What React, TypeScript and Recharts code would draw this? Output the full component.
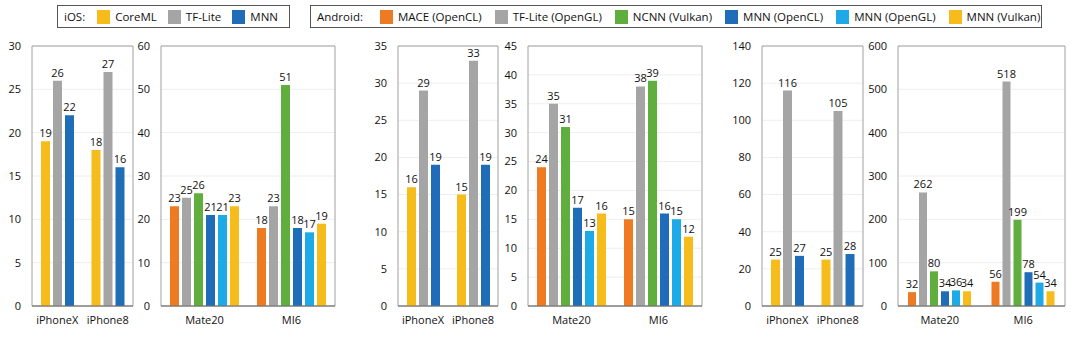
import React from "react";
import { BarChart, Bar, XAxis, YAxis, CartesianGrid, ReferenceArea, LabelList } from "recharts";

// categories
const iosDevices = ["iPhoneX", "iPhone8"];
const androidDevices = ["Mate20", "MI6"];

// series
const iosSeries = ["CoreML", "TF-Lite", "MNN"];
const iosColors = ["#F5BC1C", "#A5A5A5", "#1F6DB8"];
const androidSeries = ["MACE (OpenCL)", "TF-Lite (OpenGL)", "NCNN (Vulkan)", "MNN (OpenCL)", "MNN (OpenGL)", "MNN (Vulkan)"];
const androidColors = ["#EE7B22", "#A5A5A5", "#5FAE3E", "#1F6DB8", "#1DAAE6", "#F5BC1C"];

// values: one row per device, one column per series
const iosA = [[19, 26, 22], [18, 27, 16]];
const androidA = [[23, 25, 26, 21, 21, 23], [18, 23, 51, 18, 17, 19]];
const iosB = [[16, 29, 19], [15, 33, 19]];
const androidB = [[24, 35, 31, 17, 13, 16], [15, 38, 39, 16, 15, 12]];
const iosC = [[25, 116, 27], [25, 105, 28]];
const androidC = [[32, 262, 80, 34, 36, 34], [56, 518, 199, 78, 54, 34]];

// y ticks
const ticksIosA = [0, 5, 10, 15, 20, 25, 30];
const ticksAndroidA = [0, 10, 20, 30, 40, 50, 60];
const ticksIosB = [0, 5, 10, 15, 20, 25, 30, 35];
const ticksAndroidB = [0, 5, 10, 15, 20, 25, 30, 35, 40, 45];
const ticksIosC = [0, 20, 40, 60, 80, 100, 120, 140];
const ticksAndroidC = [0, 100, 200, 300, 400, 500, 600];

const FONT = "'Open Sans', sans-serif";
const AXIS_W = 30;

type PanelProps = {
  left: number;
  right: number;
  cats: string[];
  values: number[][];
  colors: string[];
  ticks: number[];
  barSize: number;
};

function Panel({ left, right, cats, values, colors, ticks, barSize }: PanelProps) {
  const data = cats.map((c, i) => {
    const row: Record<string, any> = { name: c };
    values[i].forEach((v, j) => (row["s" + j] = v));
    return row;
  });
  const max = ticks[ticks.length - 1];
  const w = right - left + AXIS_W + 1;
  return (
    <div style={{ position: "absolute", left: left - AXIS_W, top: 0 }}>
      <BarChart width={w} height={348} data={data} margin={{ top: 46, right: 1, left: 0, bottom: 12 }} barGap={3}>
        <CartesianGrid vertical={false} stroke="#eeeeee" />
        <ReferenceArea y1={0} y2={max} fill="none" stroke="#a0a0a0" strokeWidth={1} />
        <XAxis
          dataKey="name"
          height={30}
          axisLine={{ stroke: "#6f6f6f" }}
          tickLine={false}
          tickSize={0}
          tickMargin={10}
          tick={{ fill: "#111", fontSize: 11, fontFamily: FONT }}
        />
        <YAxis
          width={AXIS_W}
          domain={[0, max]}
          ticks={ticks}
          axisLine={false}
          tickLine={false}
          tickSize={0}
          tickMargin={11}
          tick={{ fill: "#111", fontSize: 11, fontFamily: FONT }}
        />
        {colors.map((col, j) => (
          <Bar key={j} dataKey={"s" + j} fill={col} barSize={barSize} isAnimationActive={false}>
            <LabelList dataKey={"s" + j} position="top" offset={4} fill="#111" fontSize={11} fontFamily={FONT} />
          </Bar>
        ))}
      </BarChart>
    </div>
  );
}

type LegendProps = { left: number; width: number; title: string; titleGap: number; itemGap: number; names: string[]; colors: string[] };

function LegendBox({ left, width, title, titleGap, itemGap, names, colors }: LegendProps) {
  return (
    <div
      style={{
        position: "absolute",
        left,
        top: 5,
        width,
        height: 23,
        boxSizing: "border-box",
        border: "1px solid #555",
        display: "flex",
        alignItems: "center",
        fontFamily: FONT,
        fontSize: 11.5,
        color: "#111",
        paddingLeft: 6,
        whiteSpace: "nowrap",
      }}
    >
      <span style={{ marginRight: titleGap }}>{title}</span>
      {names.map((n, i) => (
        <span key={n} style={{ display: "flex", alignItems: "center", marginRight: itemGap, flexShrink: 0 }}>
          <span style={{ display: "inline-block", width: 13, height: 14, background: colors[i], marginRight: 5 }} />
          {n}
        </span>
      ))}
    </div>
  );
}

export default function App() {
  return (
    <div style={{ position: "absolute", left: 0, top: 0, width: 1080, height: 348, background: "#fff", overflow: "hidden" }}>
      <LegendBox left={57} width={233} title="iOS:" titleGap={12} itemGap={11} names={iosSeries} colors={iosColors} />
      <LegendBox left={310} width={732} title="Android:" titleGap={17} itemGap={13} names={androidSeries} colors={androidColors} />
      <Panel left={32} right={133} cats={iosDevices} values={iosA} colors={iosColors} ticks={ticksIosA} barSize={9} />
      <Panel left={161} right={335} cats={androidDevices} values={androidA} colors={androidColors} ticks={ticksAndroidA} barSize={9} />
      <Panel left={398} right={498} cats={iosDevices} values={iosB} colors={iosColors} ticks={ticksIosB} barSize={9} />
      <Panel left={528} right={702} cats={androidDevices} values={androidB} colors={androidColors} ticks={ticksAndroidB} barSize={9} />
      <Panel left={762} right={863} cats={iosDevices} values={iosC} colors={iosColors} ticks={ticksIosC} barSize={9} />
      <Panel left={898} right={1065} cats={androidDevices} values={androidC} colors={androidColors} ticks={ticksAndroidC} barSize={8} />
    </div>
  );
}
